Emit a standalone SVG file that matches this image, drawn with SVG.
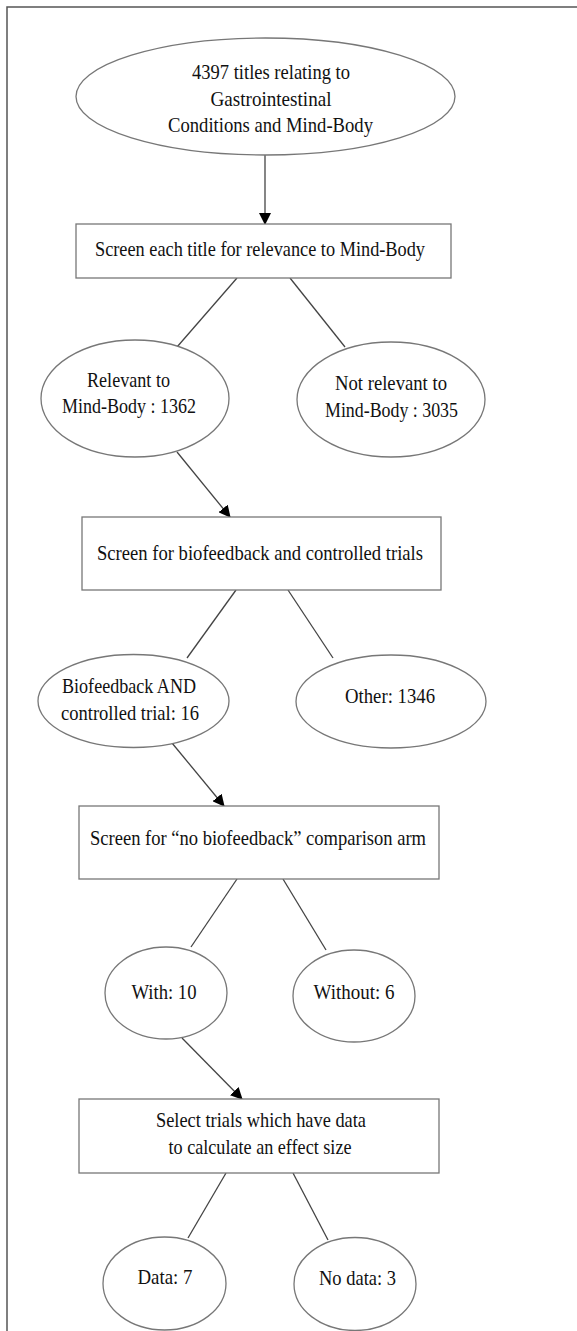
<svg xmlns="http://www.w3.org/2000/svg" width="577" height="1331" viewBox="0 0 577 1331">
<style>
.n{fill:#fff;stroke:#777;stroke-width:1.3}
.t{font-family:"Liberation Serif","Times New Roman",serif;font-size:21.5px;fill:#111;text-anchor:middle}
.c{stroke:#444;stroke-width:1.3;fill:none}
</style>
<defs>
<marker id="ah" markerWidth="12" markerHeight="12" refX="11" refY="6" orient="auto" markerUnits="userSpaceOnUse">
<path d="M0,0 L12,6 L0,12 Z" fill="#000"/>
</marker>
</defs>
<rect width="577" height="1331" fill="#fff"/>
<path d="M7,1331 L7,7 L577,7" fill="none" stroke="#555" stroke-width="1.5"/>
<g id="connectors">
<line class="c" x1="265" y1="155" x2="265" y2="224" marker-end="url(#ah)"/>
<line class="c" x1="237" y1="278" x2="177" y2="347"/>
<line class="c" x1="290" y1="278" x2="345" y2="347"/>
<line class="c" x1="177" y1="452" x2="230" y2="517" marker-end="url(#ah)"/>
<line class="c" x1="236" y1="590" x2="187" y2="658"/>
<line class="c" x1="288" y1="590" x2="333" y2="658"/>
<line class="c" x1="172" y1="743" x2="224" y2="806" marker-end="url(#ah)"/>
<line class="c" x1="237" y1="879" x2="191" y2="947"/>
<line class="c" x1="283" y1="879" x2="326" y2="950"/>
<line class="c" x1="182" y1="1038" x2="242" y2="1099" marker-end="url(#ah)"/>
<line class="c" x1="226" y1="1173" x2="188" y2="1238"/>
<line class="c" x1="293" y1="1173" x2="328" y2="1240"/>
</g>
<g id="start">
<ellipse class="n" cx="265.5" cy="96.5" rx="189.5" ry="58.5"/>
<text class="t" x="271" y="79" textLength="158" lengthAdjust="spacingAndGlyphs">4397 titles relating to</text>
<text class="t" x="271" y="106" textLength="121" lengthAdjust="spacingAndGlyphs">Gastrointestinal</text>
<text class="t" x="270.5" y="132" textLength="205" lengthAdjust="spacingAndGlyphs">Conditions and Mind-Body</text>
</g>
<g id="screen1">
<rect class="n" x="76" y="224" width="375" height="54"/>
<text class="t" x="260" y="256" textLength="330" lengthAdjust="spacingAndGlyphs">Screen each title for relevance to Mind-Body</text>
</g>
<g id="relevant">
<ellipse class="n" cx="135" cy="398.5" rx="94" ry="58.5"/>
<text class="t" x="128.5" y="387" textLength="83" lengthAdjust="spacingAndGlyphs">Relevant to</text>
<text class="t" x="129" y="413" textLength="134" lengthAdjust="spacingAndGlyphs">Mind-Body : 1362</text>
</g>
<g id="notrelevant">
<ellipse class="n" cx="391" cy="399.5" rx="94" ry="57.5"/>
<text class="t" x="391" y="390" textLength="112" lengthAdjust="spacingAndGlyphs">Not relevant to</text>
<text class="t" x="391.5" y="417" textLength="133" lengthAdjust="spacingAndGlyphs">Mind-Body : 3035</text>
</g>
<g id="screen2">
<rect class="n" x="82" y="517" width="359" height="73"/>
<text class="t" x="260" y="560" textLength="326" lengthAdjust="spacingAndGlyphs">Screen for biofeedback and controlled trials</text>
</g>
<g id="biofeedback">
<ellipse class="n" cx="133.5" cy="701" rx="95.5" ry="46.5"/>
<text class="t" x="129" y="693" textLength="134" lengthAdjust="spacingAndGlyphs">Biofeedback AND</text>
<text class="t" x="130" y="720" textLength="138" lengthAdjust="spacingAndGlyphs">controlled trial: 16</text>
</g>
<g id="other">
<ellipse class="n" cx="391" cy="701.5" rx="95" ry="46.5"/>
<text class="t" x="390" y="703" textLength="90" lengthAdjust="spacingAndGlyphs">Other: 1346</text>
</g>
<g id="screen3">
<rect class="n" x="79" y="806" width="360" height="73"/>
<text class="t" x="258" y="845" textLength="336" lengthAdjust="spacingAndGlyphs">Screen for “no biofeedback” comparison arm</text>
</g>
<g id="with">
<ellipse class="n" cx="166" cy="993" rx="61" ry="46"/>
<text class="t" x="164" y="999" textLength="65" lengthAdjust="spacingAndGlyphs">With: 10</text>
</g>
<g id="without">
<ellipse class="n" cx="354" cy="996" rx="61" ry="46"/>
<text class="t" x="354" y="999" textLength="81" lengthAdjust="spacingAndGlyphs">Without: 6</text>
</g>
<g id="select">
<rect class="n" x="79" y="1099" width="360" height="74"/>
<text class="t" x="261" y="1127" textLength="210" lengthAdjust="spacingAndGlyphs">Select trials which have data</text>
<text class="t" x="260" y="1154" textLength="183" lengthAdjust="spacingAndGlyphs">to calculate an effect size</text>
</g>
<g id="data">
<ellipse class="n" cx="164.5" cy="1283.5" rx="61.5" ry="46.5"/>
<text class="t" x="165" y="1284" textLength="55" lengthAdjust="spacingAndGlyphs">Data: 7</text>
</g>
<g id="nodata">
<ellipse class="n" cx="355" cy="1284" rx="61" ry="46.5"/>
<text class="t" x="357.5" y="1285" textLength="77" lengthAdjust="spacingAndGlyphs">No data: 3</text>
</g>
</svg>
